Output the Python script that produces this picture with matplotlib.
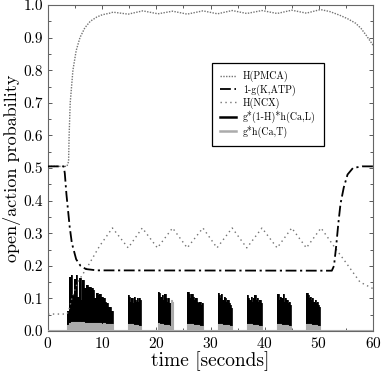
import numpy as np
import matplotlib
matplotlib.use('Agg')
import matplotlib.pyplot as plt
from matplotlib import ticker

plt.rcParams['font.family'] = 'serif'
plt.rcParams['font.serif'] = ['cmr10', 'DejaVu Serif']
plt.rcParams['axes.formatter.use_mathtext'] = True

# H(PMCA)
pmca_t = [0, 3.5, 3.8, 3.9, 4.1, 4.6, 5.2, 5.9, 6.8, 7.8, 9.0, 10.0, 11.4, 12.0,
          14.8, 17.5, 20.3, 23.0, 25.7, 28.6, 31.3, 34.0, 36.7, 39.5, 42.3, 45.0,
          47.7, 50.3, 52.0, 53.8, 55.3, 56.8, 57.8, 58.7, 60.0]
pmca_v = [0.505, 0.505, 0.52, 0.6, 0.7, 0.8, 0.86, 0.9, 0.93, 0.95, 0.963, 0.97, 0.975, 0.978,
          0.972, 0.982, 0.973, 0.981, 0.972, 0.982, 0.973, 0.983, 0.974, 0.983, 0.974, 0.984,
          0.975, 0.986, 0.98, 0.969, 0.958, 0.944, 0.928, 0.908, 0.877]

# 1-g(K,ATP)
katp_t = [0, 2.9, 3.1, 3.4, 3.7, 4.0, 4.4, 5.2, 6.0, 7.0, 9.0, 52.4, 52.8, 53.2,
          53.6, 54.0, 54.6, 55.3, 56.3, 58.0, 60.0]
katp_v = [0.505, 0.505, 0.484, 0.42, 0.37, 0.32, 0.27, 0.22, 0.2, 0.19, 0.186, 0.185, 0.2, 0.26,
          0.33, 0.39, 0.44, 0.48, 0.5, 0.505, 0.505]

# H(NCX)
ncx_t = [0, 3.5, 3.8, 4.4, 5.5, 7.4, 9.5, 11.9, 14.8, 17.4, 20.2, 23.0, 25.7, 28.6,
         31.2, 34.0, 36.7, 39.5, 42.3, 45.0, 47.7, 50.4, 53.0, 55.0, 57.6, 60.0]
ncx_v = [0.052, 0.052, 0.06, 0.1, 0.15, 0.2, 0.26, 0.316, 0.255, 0.316, 0.255, 0.316, 0.255, 0.316,
         0.255, 0.316, 0.255, 0.316, 0.255, 0.316, 0.255, 0.316, 0.255, 0.21, 0.15, 0.13]

# burst windows (seconds)
burst_start = [3.55, 14.8, 20.3, 25.7, 31.3, 36.7, 42.2, 47.7]
burst_end = [12.0, 17.2, 23.1, 28.7, 34.0, 39.5, 44.9, 50.3]

# g*(1-H)*h(Ca,L) peak heights within each burst
ltype = [
    [0.06, 0.165, 0.172, 0.110, 0.160, 0.173, 0.105, 0.162, 0.095, 0.156, 0.131, 0.141, 0.135,
     0.136, 0.131, 0.126, 0.100, 0.118, 0.110, 0.115, 0.105, 0.100, 0.090, 0.085, 0.074, 0.074, 0.060],
    [0.11, 0.105, 0.09, 0.1, 0.085, 0.105, 0.095, 0.09, 0.1, 0.088, 0.1, 0.095],
    [0.12, 0.118, 0.105, 0.11, 0.095, 0.112, 0.1, 0.09, 0.1, 0.085, 0.07, 0.06],
    [0.12, 0.115, 0.1, 0.112, 0.105, 0.095, 0.1, 0.09, 0.085, 0.09, 0.08, 0.085],
    [0.116, 0.11, 0.1, 0.112, 0.095, 0.105, 0.1, 0.09, 0.095, 0.085, 0.08, 0.07],
    [0.11, 0.1, 0.095, 0.105, 0.09, 0.1, 0.11, 0.095, 0.1, 0.09, 0.095, 0.085],
    [0.115, 0.112, 0.095, 0.105, 0.1, 0.112, 0.09, 0.1, 0.095, 0.085, 0.09, 0.08],
    [0.116, 0.11, 0.1, 0.105, 0.095, 0.1, 0.09, 0.095, 0.085, 0.09, 0.08, 0.075],
]

# g*h(Ca,T) heights within each burst
ttype = [
    [0.018, 0.024, 0.028, 0.029, 0.028, 0.027, 0.028, 0.027, 0.026, 0.027, 0.026, 0.026, 0.025,
     0.026, 0.025, 0.025, 0.024, 0.025, 0.024, 0.024, 0.023, 0.024, 0.023, 0.023, 0.022, 0.022, 0.02],
    [0.023, 0.022, 0.02, 0.02, 0.019, 0.018, 0.018, 0.017, 0.018, 0.016, 0.016, 0.015],
    [0.024, 0.022, 0.021, 0.02, 0.019, 0.018, 0.018, 0.017, 0.017, 0.016, 0.095, 0.09],
    [0.023, 0.022, 0.02, 0.02, 0.019, 0.018, 0.018, 0.017, 0.018, 0.016, 0.016, 0.015],
    [0.023, 0.022, 0.02, 0.02, 0.019, 0.018, 0.018, 0.017, 0.018, 0.016, 0.016, 0.015],
    [0.023, 0.022, 0.02, 0.02, 0.019, 0.018, 0.018, 0.017, 0.018, 0.016, 0.016, 0.015],
    [0.023, 0.022, 0.02, 0.02, 0.019, 0.018, 0.018, 0.017, 0.018, 0.016, 0.016, 0.015],
    [0.023, 0.022, 0.02, 0.02, 0.019, 0.018, 0.018, 0.017, 0.018, 0.016, 0.016, 0.015],
]
t_rest = 0.004


def burst_series(heights, rest):
    tt, vv = [0.0], [rest]
    for s, e, h in zip(burst_start, burst_end, heights):
        tt += list(np.linspace(s, e, len(h), endpoint=False))
        vv += list(h)
        tt.append(e)
        vv.append(rest)
    tt.append(60.0)
    vv.append(rest)
    return np.array(tt), np.array(vv)


lt, lv = burst_series(ltype, 0.0)
tt, tv = burst_series(ttype, t_rest)

fig = plt.figure(figsize=(3.82, 3.71), dpi=100)
ax = fig.add_axes([48 / 382, 40 / 371, 325 / 382, 326 / 371])

ax.fill_between(lt, 0, lv, step='post', color='k', lw=0, zorder=2)
h4, = ax.plot(lt, lv, drawstyle='steps-post', color='k', lw=0.6, zorder=2)
ax.fill_between(tt, 0, tv, step='post', color='#ababab', lw=0, zorder=3)
h5, = ax.plot(tt, tv, drawstyle='steps-post', color='#ababab', lw=0.8, zorder=3)

h1, = ax.plot(pmca_t, pmca_v, color='0.45', lw=1.0, ls=(0, (1, 1)), zorder=4)
h2, = ax.plot(katp_t, katp_v, color='k', lw=1.3, ls=(0, (6, 2, 1.2, 2)), zorder=5)
h3, = ax.plot(ncx_t, ncx_v, color='0.45', lw=1.0, ls=(0, (1, 2.5)), zorder=4)

h4l, = ax.plot([], [], color='k', lw=1.8)
h5l, = ax.plot([], [], color='#ababab', lw=1.8)

leg = ax.legend([h1, h2, h3, h4l, h5l],
                ['H(PMCA)', '1-g(K,ATP)', 'H(NCX)', 'g*(1-H)*h(Ca,L)', 'g*h(Ca,T)'],
                loc='upper left', bbox_to_anchor=(0.505, 0.822), borderaxespad=0,
                fontsize=7.2, handlelength=1.6, handletextpad=0.7, labelspacing=0.2,
                borderpad=0.8, fancybox=False, framealpha=1, edgecolor='k')
leg.get_frame().set_linewidth(0.9)

ax.set_xlim(0, 60)
ax.set_ylim(0, 1.0)
ax.xaxis.set_major_locator(ticker.MultipleLocator(10))
ax.xaxis.set_minor_locator(ticker.MultipleLocator(5))
ax.yaxis.set_major_locator(ticker.MultipleLocator(0.1))
ax.yaxis.set_minor_locator(ticker.MultipleLocator(0.05))
ax.yaxis.set_major_formatter(ticker.StrMethodFormatter('{x:.1f}'))
ax.tick_params(which='both', direction='in', top=True, right=True, colors='0.35',
               labelcolor='k', labelsize=11, width=0.7)
ax.tick_params(which='major', length=3)
ax.tick_params(which='minor', length=2)
for sp in ax.spines.values():
    sp.set_color('0.4')
    sp.set_linewidth(0.8)

ax.set_xlabel('time [seconds]', fontsize=14, labelpad=0)
ax.set_ylabel('open/action probability', fontsize=13, labelpad=2)

fig.savefig('out.png', dpi=100)
